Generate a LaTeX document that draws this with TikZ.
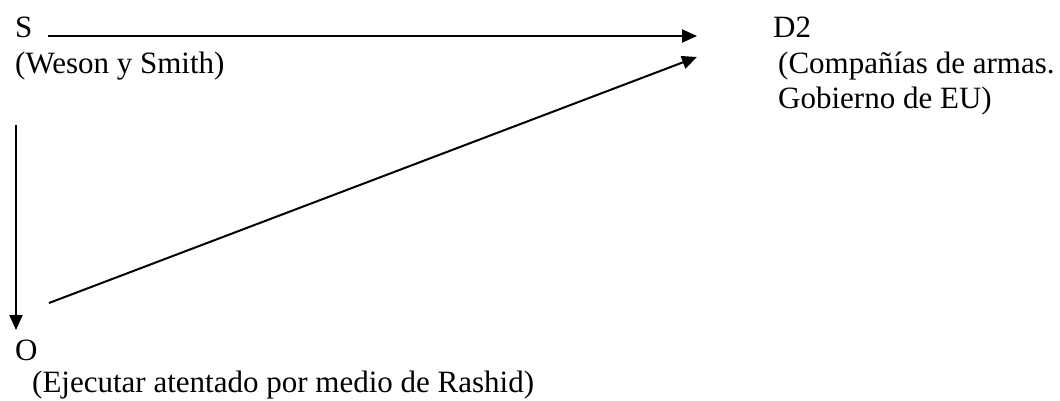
\documentclass[tikz,border=0pt]{standalone}
\usepackage{fontspec}
\setmainfont{Liberation Serif}
\usetikzlibrary{arrows.meta}
\begin{document}
\begin{tikzpicture}[x=1pt,y=-1pt,
  lbl/.style={anchor=base west, inner sep=0pt, font=\fontsize{31}{36}\selectfont},
  link/.style={line width=2pt, -{Triangle[length=15pt,width=13pt]}}]
\useasboundingbox (0,0) rectangle (1060,400);
% subject, object and recipient labels
\node[lbl] (S) at (15,37) {S};
\node[lbl] (Sdesc) at (15,73) {(Weson y Smith)};
\node[lbl] (D) at (773,37) {D2};
\node[lbl] (Ddesc1) at (778,73) {(Compañías de armas.};
\node[lbl] (Ddesc2) at (778,108) {Gobierno de EU)};
\node[lbl] (O) at (15,360) {O};
\node[lbl] (Odesc) at (32,392) {(Ejecutar atentado por medio de Rashid)};
% connector end points
\coordinate (sOut) at (48,36);
\coordinate (dIn1) at (697,36);
\coordinate (sDown) at (16,125);
\coordinate (oIn) at (16,330);
\coordinate (oOut) at (49,303);
\coordinate (dIn2) at (697,57);
% arrows
\draw[link] (sOut) -- (dIn1);
\draw[link] (sDown) -- (oIn);
\draw[link] (oOut) -- (dIn2);
\end{tikzpicture}
\end{document}
